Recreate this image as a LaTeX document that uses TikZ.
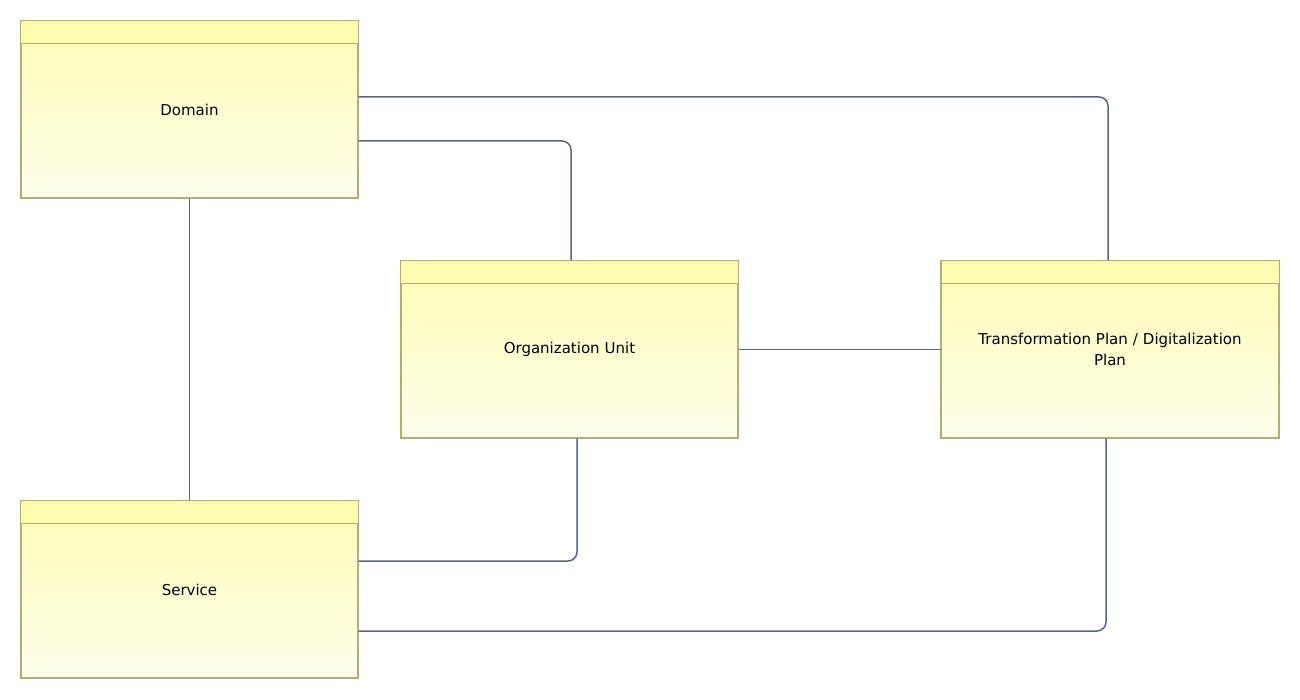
\documentclass[tikz,border=0pt]{standalone}
\usepackage{fontspec}
\setmainfont{DejaVu Sans}
\begin{document}
\begin{tikzpicture}[x=1pt,y=-1pt,
  box/.style={draw=boxline,line width=1.3pt,minimum width=337pt,minimum height=177pt,
    top color=boxtop,bottom color=boxbot,align=center,text width=330pt,font=\fontsize{15}{21}\selectfont,inner sep=0pt},
  conn/.style={draw=connc,line width=1.5pt,rounded corners=9pt}]
\definecolor{boxline}{HTML}{B0B070}
\definecolor{boxtop}{HTML}{FDFDB4}
\definecolor{boxbot}{HTML}{FFFEEC}
\definecolor{hdr}{HTML}{FDFDB0}
\definecolor{connc}{HTML}{5C6486}
\useasboundingbox (0,0) rectangle (1300,700);
\node[box] (dom) at (189.5,109.5) {Domain};
\node[box] (org) at (569.5,349.5) {Organization Unit};
\node[box] (tp) at (1110,349.5) {Transformation Plan / Digitalization\\Plan};
\node[box] (svc) at (189.5,589.5) {Service};
\foreach \n in {dom,org,tp,svc}{
  \fill[hdr] ([xshift=0.6pt,yshift=-0.6pt]\n.north west) rectangle ([xshift=-0.6pt,yshift=-23pt]\n.north east);
  \draw[boxline,line width=1.3pt] (\n.north west) rectangle (\n.south east);
  \draw[boxline,line width=1.3pt] ([yshift=-23pt]\n.north west) -- ([yshift=-23pt]\n.north east);
}
\draw[conn] ([yshift=12.5pt]dom.east) -| ([xshift=-2pt]tp.north);
\draw[conn] ([yshift=-31.5pt]dom.east) -| ([xshift=1.5pt]org.north);
\draw[conn] (dom.south) -- (svc.north);
\draw[conn] (org.east) -- (tp.west);
\draw[conn] ([xshift=7.5pt]org.south) |- ([yshift=28.5pt]svc.east);
\draw[conn] ([xshift=-4pt]tp.south) |- ([yshift=-41.5pt]svc.east);
\end{tikzpicture}
\end{document}
